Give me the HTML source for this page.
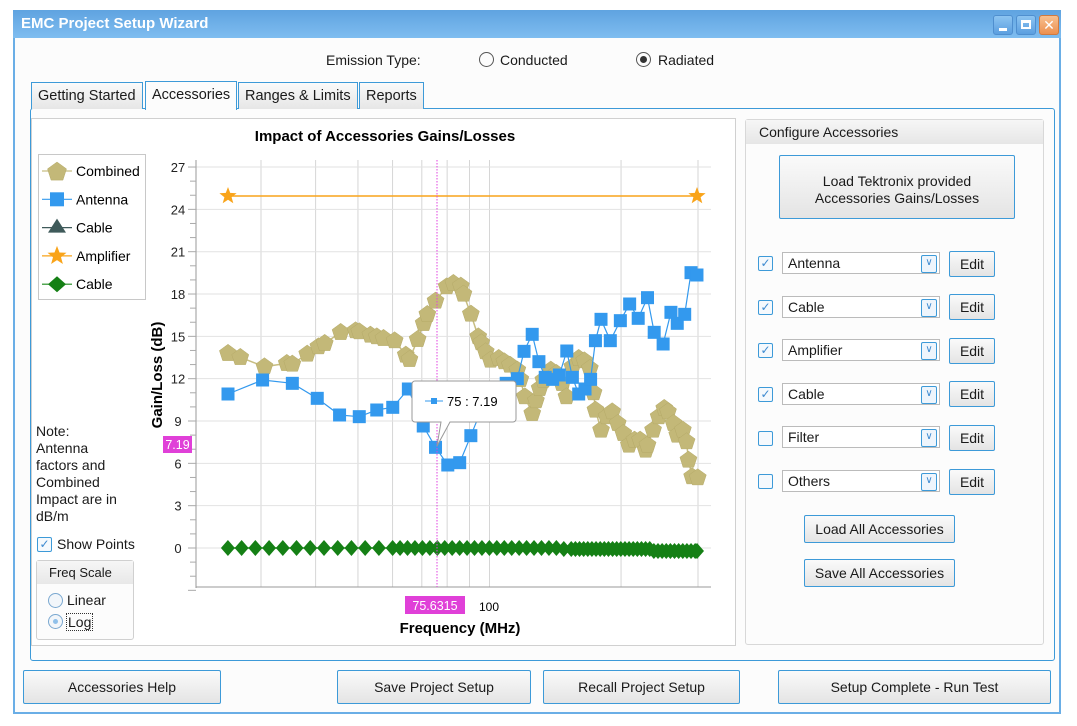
<!DOCTYPE html>
<html><head><meta charset="utf-8"><style>
body{margin:0;width:1077px;height:726px;background:#fff;font-family:"Liberation Sans","DejaVu Sans",sans-serif;font-size:14px;color:#1a1a1a;position:relative;overflow:hidden}
.a{position:absolute}
.win{left:13px;top:10px;width:1048px;height:704px;border:2px solid #6aaee6;background:#fcfcfc;box-sizing:border-box}
.title{left:13px;top:10px;width:1048px;height:28px;background:linear-gradient(#5fa3e0,#7fbdf0);color:#fff;font-weight:bold;font-size:15px;line-height:28px;padding-left:8px;box-sizing:border-box}
.tb{top:15px;width:20px;height:20px;border:1px solid #4f8fcf;border-radius:3px;background:linear-gradient(#8cc4f2,#5b9fe0);box-sizing:border-box}
.btn{border:1px solid #3d9ad8;border-radius:2px;background:linear-gradient(#fafafa,#e4e4e4);text-align:center;box-sizing:border-box}
.tab{top:82px;height:27px;border:1px solid #3d9ad8;border-bottom:none;background:linear-gradient(#fafafa,#e6e6e6);line-height:27px;padding:0 6px;box-sizing:border-box;font-size:14.5px}
.cb{width:15px;height:15px;border:1px solid #3d9ad8;border-radius:2px;background:#f5f9fd;box-sizing:border-box;color:#3d8ad0;font-size:12px;line-height:13px;text-align:center}
.combo{width:158px;height:22px;border:1px solid #bbb;background:#fff;box-sizing:border-box;line-height:20px;padding-left:5px}
.combo i{position:absolute;right:2px;top:2px;width:14px;height:16px;border:1px solid #3d9ad8;border-radius:2px;font-style:normal;font-size:10px;line-height:14px;text-align:center;color:#3d8ad0;background:#eef5fc}
.edit{width:46px;height:26px;line-height:24px}
</style></head><body>
<div class="a win"></div>
<div class="a title">EMC Project Setup Wizard</div>
<div class="a tb" style="left:993px"><div class="a" style="left:5px;top:12px;width:8px;height:3px;background:#fff"></div></div>
<div class="a tb" style="left:1016px"><div class="a" style="left:4px;top:4px;width:10px;height:9px;border:2px solid #fff;border-top-width:3px;box-sizing:border-box"></div></div>
<div class="a tb" style="left:1039px;background:linear-gradient(#f8c090,#ec9050);border-color:#d07a40;color:#fff;font-weight:bold;text-align:center;line-height:18px">✕</div>

<div class="a" style="left:326px;top:52px">Emission Type:</div>
<div class="a" style="left:479px;top:52px;width:13px;height:13px;border:1px solid #555;border-radius:50%"></div>
<div class="a" style="left:500px;top:52px">Conducted</div>
<div class="a" style="left:636px;top:52px;width:13px;height:13px;border:1px solid #555;border-radius:50%"><div class="a" style="left:3px;top:3px;width:7px;height:7px;border-radius:50%;background:#333"></div></div>
<div class="a" style="left:658px;top:52px">Radiated</div>

<div class="a" style="left:30px;top:108px;width:1025px;height:553px;border:1px solid #3d9ad8;border-radius:3px;background:#fcfcfc;box-sizing:border-box"></div>
<div class="a tab" style="left:31px">Getting Started</div>
<div class="a tab" style="left:145px;top:81px;height:29px;background:#fcfcfc">Accessories</div>
<div class="a tab" style="left:238px">Ranges &amp; Limits</div>
<div class="a tab" style="left:359px">Reports</div>

<div class="a" style="left:31px;top:118px;width:705px;height:528px;border:1px solid #d0d0d0;background:#fff;box-sizing:border-box"></div>
<div class="a" style="left:745px;top:119px;width:299px;height:526px;border:1px solid #d8d8d8;border-radius:3px;background:#fcfcfc;box-sizing:border-box"></div>
<div class="a" style="left:746px;top:120px;width:297px;height:24px;background:linear-gradient(#f6f6f6,#e6e6e6);line-height:24px;padding-left:13px;box-sizing:border-box">Configure Accessories</div>
<div class="a btn" style="left:779px;top:155px;width:236px;height:64px;padding-top:17px;line-height:17px">Load Tektronix provided<br>Accessories Gains/Losses</div>

<div class="a cb" style="left:758px;top:256px">✓</div><div class="a combo" style="left:782px;top:252px">Antenna<i>∨</i></div><div class="a btn edit" style="left:949px;top:251px">Edit</div>
<div class="a cb" style="left:758px;top:300px">✓</div><div class="a combo" style="left:782px;top:296px">Cable<i>∨</i></div><div class="a btn edit" style="left:949px;top:294px">Edit</div>
<div class="a cb" style="left:758px;top:343px">✓</div><div class="a combo" style="left:782px;top:339px">Amplifier<i>∨</i></div><div class="a btn edit" style="left:949px;top:338px">Edit</div>
<div class="a cb" style="left:758px;top:387px">✓</div><div class="a combo" style="left:782px;top:383px">Cable<i>∨</i></div><div class="a btn edit" style="left:949px;top:381px">Edit</div>
<div class="a cb" style="left:758px;top:431px"></div><div class="a combo" style="left:782px;top:426px">Filter<i>∨</i></div><div class="a btn edit" style="left:949px;top:425px">Edit</div>
<div class="a cb" style="left:758px;top:474px"></div><div class="a combo" style="left:782px;top:470px">Others<i>∨</i></div><div class="a btn edit" style="left:949px;top:469px">Edit</div>
<div class="a btn" style="left:804px;top:515px;width:151px;height:28px;line-height:26px">Load All Accessories</div>
<div class="a btn" style="left:804px;top:559px;width:151px;height:28px;line-height:26px">Save All Accessories</div>

<div class="a btn" style="left:23px;top:670px;width:198px;height:34px;line-height:32px">Accessories Help</div>
<div class="a btn" style="left:337px;top:670px;width:194px;height:34px;line-height:32px">Save Project Setup</div>
<div class="a btn" style="left:543px;top:670px;width:197px;height:34px;line-height:32px">Recall Project Setup</div>
<div class="a btn" style="left:778px;top:670px;width:273px;height:34px;line-height:32px">Setup Complete - Run Test</div>

<div class="a" style="left:38px;top:154px;width:108px;height:146px;border:1px solid #c8c8c8;background:#fff;box-sizing:border-box"></div>
<div class="a" style="left:36px;top:423px;line-height:17px;font-size:14px">Note:<br>Antenna<br>factors and<br>Combined<br>Impact are in<br>dB/m</div>
<div class="a cb" style="left:37px;top:537px">✓</div>
<div class="a" style="left:57px;top:536px">Show Points</div>
<div class="a" style="left:36px;top:560px;width:98px;height:80px;border:1px solid #d0d0d0;border-radius:3px;background:#fcfcfc;box-sizing:border-box"></div>
<div class="a" style="left:37px;top:561px;width:96px;height:23px;background:linear-gradient(#f6f6f6,#e8e8e8);line-height:23px;padding-left:12px;box-sizing:border-box;font-size:13px">Freq Scale</div>
<div class="a" style="left:48px;top:593px;width:13px;height:13px;border:1px solid #7aa8d0;border-radius:50%;background:#f2f6fa"></div>
<div class="a" style="left:67px;top:592px">Linear</div>
<div class="a" style="left:48px;top:614px;width:13px;height:13px;border:1px solid #7aa8d0;border-radius:50%;background:#f2f6fa"><div class="a" style="left:4px;top:4px;width:5px;height:5px;border-radius:50%;background:#8fc0ea"></div></div>
<div class="a" style="left:66px;top:613px;border:1px dotted #333;padding:0 1px">Log</div>

<svg class="a" style="left:0;top:0" width="1077" height="726" id="s" font-family="Liberation Sans, sans-serif"></svg>
<script>
const S=document.getElementById('s');let h='';
const Y=v=>548-14.11*v;
const FX=f=>489.5+437*Math.log10(f/100);
const ZX=a=>228+(a-212)*0.3719, ZY=b=>150+b/3;
h+='<rect x="196" y="160" width="515" height="427" fill="#fff"/>';
[30,40,50,60,70,80,90,100,200,300].forEach(f=>{const x=FX(f);h+=`<line x1="${x}" y1="160" x2="${x}" y2="587" stroke="#d6d6d6"/>`});
for(let v=0;v<=27;v+=3)h+=`<line x1="196" y1="${Y(v)}" x2="711" y2="${Y(v)}" stroke="#e2e2e2"/>`;
h+='<line x1="196" y1="160" x2="196" y2="588" stroke="#999"/><line x1="196" y1="587" x2="711" y2="587" stroke="#999"/>';
for(let v=-3;v<=27;v+=1){h+=`<line x1="${v%3?190:188}" y1="${Y(v)}" x2="196" y2="${Y(v)}" stroke="#aaa"/>`;if(v%3==0&&v>=0)h+=`<text x="178" y="${Y(v)+5}" font-size="13" text-anchor="middle" fill="#222">${v}</text>`;}
h+='<text x="385" y="141" font-size="15" font-weight="bold" text-anchor="middle">Impact of Accessories Gains/Losses</text>';
h+='<text x="460" y="633" font-size="15" font-weight="bold" text-anchor="middle">Frequency (MHz)</text>';
h+='<text transform="translate(162,375) rotate(-90)" font-size="15" font-weight="bold" text-anchor="middle">Gain/Loss (dB)</text>';
h+='<text x="489" y="611" font-size="12" text-anchor="middle">100</text>';
const star=(x,y,r)=>{let p=[];for(let i=0;i<10;i++){let a=-Math.PI/2+i*Math.PI/5,rr=i%2?r*0.42:r;p.push((x+rr*Math.cos(a)).toFixed(1)+','+(y+rr*Math.sin(a)).toFixed(1));}return `<polygon points="${p.join(' ')}" fill="#f9a41a"/>`;};
h+='<line x1="228" y1="196" x2="697" y2="196" stroke="#f9a41a" stroke-width="1.5"/>'+star(228,196,9)+star(697,196,9);
// cable diamonds
let xs=[];let f=25.2;while(f<=300){xs.push(FX(f));f*=f<60?1.075:f<150?1.04:1.022;}
xs.push(697);
const pts=xs.map(x=>[x,548+(x>651?3:x>560?1:0)]);
h+=`<polyline points="${pts.map(p=>p.join(',')).join(' ')}" fill="none" stroke="#1a8a1a" stroke-width="1.5"/>`;
pts.forEach(([x,y])=>h+=`<polygon points="${x},${y-8} ${x+7},${y} ${x},${y+8} ${x-7},${y}" fill="#158015"/>`);
const C=[[212,610],[245,622],[310,650],[370,640],[385,642],[425,612],[455,590],[472,580],[515,547],[555,542],[565,545],[595,555],[612,560],[630,565],[660,572],[690,615],[700,628],[722,568],[738,520],[748,493],[770,453],[800,410],[818,400],[838,408],[845,432],[865,492],[885,560],[893,578],[905,605],[918,630],[940,625],[955,635],[970,645],[990,660],[998,688],[1010,740],[1030,790],[1040,752],[1050,715],[1060,690],[1080,660],[1095,670],[1110,700],[1122,740],[1138,650],[1155,625],[1170,632],[1185,655],[1195,728],[1200,780],[1215,840],[1230,800],[1245,785],[1260,820],[1275,850],[1290,885],[1305,870],[1320,870],[1335,900],[1340,885],[1355,840],[1370,800],[1385,775],[1395,785],[1410,820],[1420,855],[1435,840],[1445,875],[1450,930],[1460,980],[1475,983]].map(([a,b])=>[ZX(a),ZY(b)]);
h+=`<polyline points="${C.map(p=>p.join(',')).join(' ')}" fill="none" stroke="#c8be82" stroke-width="1.5"/>`;
const pent=(x,y,r)=>{let p=[];for(let i=0;i<5;i++){let a=-Math.PI/2+i*2*Math.PI/5;p.push((x+r*Math.cos(a)).toFixed(1)+','+(y+r*Math.sin(a)).toFixed(1));}return `<polygon points="${p.join(' ')}" fill="#c3b878" stroke="#b5aa68" stroke-width=".5"/>`;};
C.forEach(([x,y])=>h+=pent(x,y,9));
const A=[[212,732],[305,690],[385,700],[452,745],[512,795],[565,800],[612,780],[655,772],[697,717],[737,828],[770,892],[803,945],[835,938],[865,857],[900,760],[960,700],[990,686],[1008,604],[1030,553],[1048,635],[1065,682],[1085,688],[1103,675],[1123,603],[1138,682],[1155,732],[1172,717],[1187,688],[1200,572],[1215,508],[1240,572],[1267,512],[1292,462],[1315,505],[1340,443],[1358,547],[1382,582],[1403,487],[1420,520],[1440,493],[1457,368],[1473,375]].map(([a,b])=>[ZX(a),ZY(b)]);
h+=`<polyline points="${A.map(p=>p.join(',')).join(' ')}" fill="none" stroke="#3399ee" stroke-width="1.2"/>`;
A.forEach(([x,y])=>h+=`<rect x="${x-6.5}" y="${y-6.5}" width="13" height="13" fill="#3399ee"/>`);
h+='<line x1="437" y1="160" x2="437" y2="587" stroke="#e040e0" stroke-dasharray="1.5,1.5"/>';
h+='<rect x="163" y="436" width="29" height="17" fill="#e040d8"/><text x="177.5" y="449" font-size="12.5" fill="#fff" text-anchor="middle">7.19</text>';
h+='<rect x="405" y="596" width="60" height="18" fill="#e040d8"/><text x="435" y="610" font-size="12.5" fill="#fff" text-anchor="middle">75.6315</text>';
h+='<path d="M415,381 h98 a3,3 0 0 1 3,3 v35 a3,3 0 0 1 -3,3 h-63 l-13,24 l4,-24 h-26 a3,3 0 0 1 -3,-3 v-35 a3,3 0 0 1 3,-3z" fill="#fff" stroke="#999"/>';
h+='<line x1="425" y1="401" x2="443" y2="401" stroke="#3399ee"/><rect x="431" y="398" width="6" height="6" fill="#3399ee"/><text x="447" y="406" font-size="13">75 : 7.19</text>';
const L=[['Combined','#c8be82','p'],['Antenna','#3399ee','s'],['Cable','#3f5a5a','t'],['Amplifier','#f9a41a','st'],['Cable','#1a8a1a','d']];
L.forEach(([n,c,m],i)=>{let y=171+i*28.3;h+=`<line x1="42" y1="${y}" x2="72" y2="${y}" stroke="${c}" stroke-width="1.2"/>`;
if(m=='p')h+=pent(57,y+1,10);if(m=='s')h+=`<rect x="50" y="${y-7}" width="14" height="14" fill="${c}"/>`;
if(m=='t')h+=`<polygon points="57,${y-9} 66,${y+5} 48,${y+5}" fill="${c}"/>`;if(m=='st')h+=star(57,y,10);
if(m=='d')h+=`<polygon points="57,${y-8} 66,${y} 57,${y+8} 48,${y}" fill="#158015"/>`;
h+=`<text x="76" y="${y+5}" font-size="14">${n}</text>`;});
S.innerHTML=h;
</script>
</body></html>
